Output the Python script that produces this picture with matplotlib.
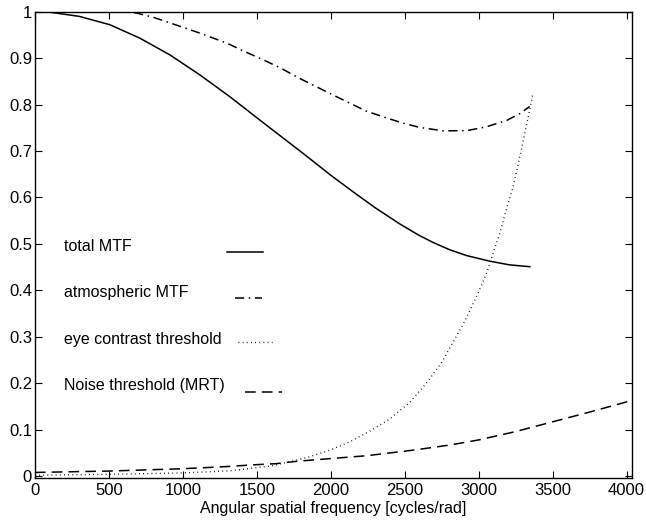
import matplotlib
matplotlib.use("Agg")
import matplotlib.pyplot as plt
import numpy as np

plt.rcParams["font.family"] = ["Liberation Sans", "DejaVu Sans"]
plt.rcParams["font.size"] = 11.5

# total MTF
f_total = [0, 100, 300, 507, 710, 913, 1115, 1318, 1560, 1813, 2000, 2152, 2300, 2467,
           2600, 2693, 2800, 2918, 3073, 3208, 3346]
mtf_total = [1.0, 0.999, 0.99, 0.972, 0.943, 0.907, 0.864, 0.817, 0.757, 0.695, 0.648,
             0.612, 0.578, 0.543, 0.518, 0.503, 0.488, 0.475, 0.463, 0.455, 0.451]

# atmospheric MTF
f_atm = [0, 600, 690, 800, 913, 1115, 1300, 1420, 1540, 1660, 1780, 1900, 2020, 2130,
         2240, 2370, 2490, 2600, 2760, 2920, 3050, 3190, 3280, 3345]
mtf_atm = [1.0, 1.0, 0.997, 0.988, 0.976, 0.954, 0.932, 0.914, 0.897, 0.879, 0.858, 0.839,
           0.820, 0.803, 0.786, 0.772, 0.760, 0.751, 0.7435, 0.744, 0.752, 0.766, 0.781,
           0.796]

# eye contrast threshold
f_eye = [0, 500, 1000, 1318, 1453, 1589, 1724, 1859, 1994, 2129, 2264, 2399, 2535, 2646,
         2750, 2900, 2996, 3053, 3098, 3143, 3188, 3233, 3267, 3300, 3333, 3357, 3364]
eye = [0.002, 0.004, 0.007, 0.0115, 0.0166, 0.0216, 0.031, 0.042, 0.056, 0.074, 0.097,
       0.123, 0.159, 0.200, 0.245, 0.33, 0.394, 0.437, 0.480, 0.523, 0.575, 0.623, 0.672,
       0.720, 0.771, 0.807, 0.821]

# noise threshold (MRT)
f_noise = [0, 500, 1000, 1318, 1453, 1634, 1769, 1926, 2084, 2242, 2399, 2557, 2715, 2805,
           3000, 3250, 3500, 3750, 4035]
noise = [0.008, 0.011, 0.016, 0.021, 0.024, 0.027, 0.032, 0.036, 0.040, 0.044, 0.050,
         0.056, 0.063, 0.067, 0.078, 0.096, 0.117, 0.138, 0.163]

labels = ["total MTF", "atmospheric MTF", "eye contrast threshold", "Noise threshold (MRT)"]

fig = plt.figure(figsize=(6.46, 5.21), dpi=100)
ax = fig.add_axes([0.054, 0.0825, 0.924, 0.895])

styles = [("-", 1.1), ((0, (6, 3, 1, 3)), 1.1), ((0, (0.6, 2.4)), 1.0), ((0, (7, 4)), 1.1)]
series = [(f_total, mtf_total), (f_atm, mtf_atm), (f_eye, eye), (f_noise, noise)]
for (fx, fy), (ls, lw) in zip(series, styles):
    ax.plot(fx, fy, color="black", linestyle=ls, linewidth=lw)

# hand-placed legend like the original
text_y = [0.497, 0.397, 0.298, 0.198]
seg_x = [(0.322, 0.382), (0.335, 0.380), (0.340, 0.397), (0.352, 0.414)]
seg_y = [0.485, 0.386, 0.292, 0.185]
for lab, (ls, lw), ty, sx, sy in zip(labels, styles, text_y, seg_x, seg_y):
    ax.text(0.049, ty, lab, transform=ax.transAxes, va="center", ha="left")
    ax.plot(sx, [sy, sy], transform=ax.transAxes, color="black", linestyle=ls, linewidth=lw)

ax.set_xlim(0, 4035)
ax.set_ylim(-0.004, 1.0)
ax.set_xticks(np.arange(0, 4001, 500))
ax.set_yticks(np.arange(0, 1.01, 0.1))
ax.set_yticklabels(["0", "0.1", "0.2", "0.3", "0.4", "0.5", "0.6", "0.7", "0.8", "0.9", "1"])
ax.tick_params(direction="in", top=True, right=True, length=5, width=0.8, pad=2, labelsize=12)
ax.tick_params(axis="x", pad=3.5)
ax.set_xlabel("Angular spatial frequency [cycles/rad]", labelpad=2)
for s in ax.spines.values():
    s.set_linewidth(1.0)

plt.savefig("out.png", dpi=100)
